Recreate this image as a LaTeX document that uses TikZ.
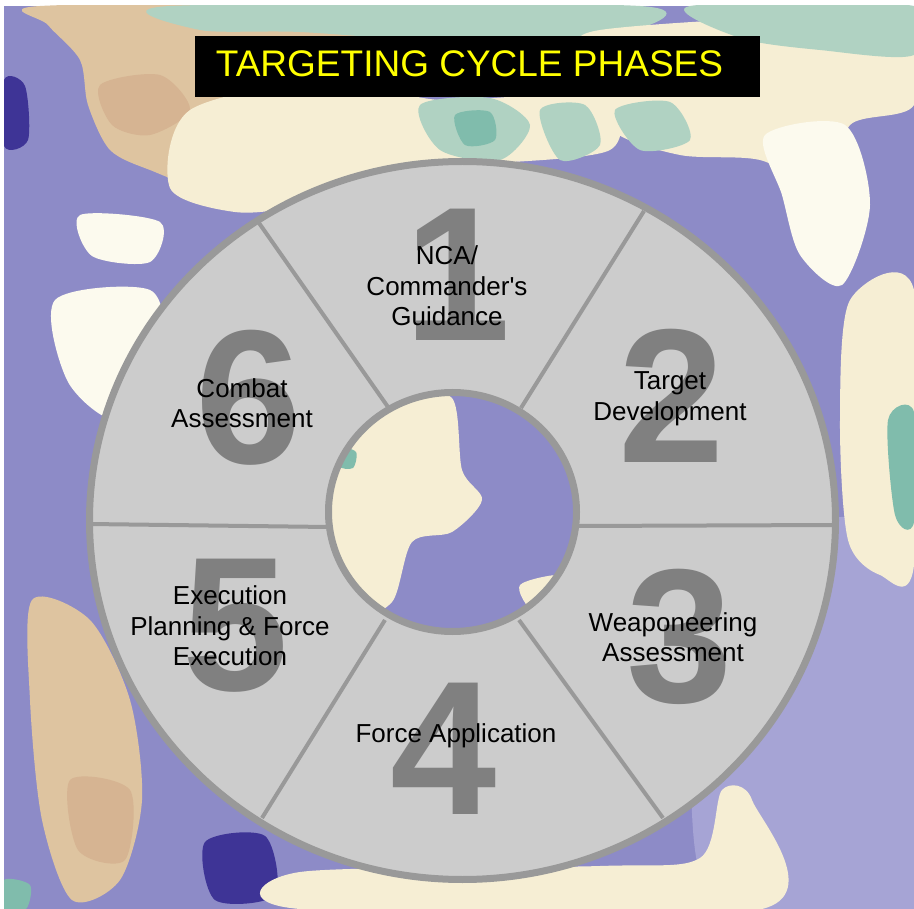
\documentclass[tikz,border=0pt]{standalone}
\usepackage{fontspec}
\setmainfont{Liberation Sans}
\definecolor{skypurple}{RGB}{141,139,199}
\definecolor{skylavender}{RGB}{166,164,213}
\definecolor{skynavy}{RGB}{62,52,150}
\definecolor{skytan}{RGB}{222,196,160}
\definecolor{skypeach}{RGB}{214,180,146}
\definecolor{skycream}{RGB}{246,238,212}
\definecolor{skywhite}{RGB}{252,250,238}
\definecolor{skyteal}{RGB}{128,188,172}
\definecolor{skypaleteal}{RGB}{176,210,194}
\definecolor{ringfill}{RGB}{204,204,204}
\definecolor{ringline}{RGB}{153,153,153}
\definecolor{numgray}{RGB}{128,128,128}
\definecolor{titleyellow}{RGB}{255,255,0}
\begin{document}
\begin{tikzpicture}[x=1pt,y=-1pt,
    phase/.style={align=center,inner sep=0pt,font=\fontsize{26}{30.5}\selectfont},
    digit/.style={inner sep=0pt,text=numgray,font=\fontsize{191}{191}\selectfont\bfseries},
    divider/.style={draw=ringline,line width=4pt},
    ringedge/.style={draw=ringline,line width=7pt}]
  \useasboundingbox (0,0) rectangle (914,909);
  \fill[white] (0,0) rectangle (914,909);
  \begin{scope}
    \clip (4,6) rectangle (914,909);
    \fill[skypurple] (4,6) rectangle (914,909);
    \fill[skylavender] plot[smooth cycle] coordinates {(700,560) (914,540) (914,909) (720,909) (690,760)};
    \fill[skytan] plot[smooth cycle] coordinates {(40,6) (360,6) (380,50) (340,100) (300,130) (250,160) (200,185) (150,170) (110,150) (88,105) (80,60) (48,25)};
    \fill[skypeach] plot[smooth cycle] coordinates {(100,85) (160,75) (190,110) (150,135) (112,125)};
    \fill[skycream] plot[smooth cycle] coordinates {(190,110) (330,80) (440,100) (600,95) (610,150) (470,165) (380,175) (300,205) (235,212) (170,188)};
    \fill[skypaleteal] plot[smooth cycle] coordinates {(170,6) (640,6) (615,35) (460,42) (300,32) (200,30)};
    \fill[skypaleteal] plot[smooth cycle] coordinates {(420,105) (490,98) (530,125) (500,160) (440,150)};
    \fill[skypaleteal] plot[smooth cycle] coordinates {(540,110) (585,105) (600,145) (560,160)};
    \fill[skyteal] plot[smooth cycle] coordinates {(455,115) (490,112) (495,140) (465,145)};
    \fill[skycream] plot[smooth cycle] coordinates {(600,30) (914,20) (914,105) (850,125) (830,190) (760,160) (680,155) (612,130) (590,70)};
    \fill[skypaleteal] plot[smooth cycle] coordinates {(690,6) (914,6) (914,55) (820,50) (740,38)};
    \fill[skypaleteal] plot[smooth cycle] coordinates {(615,110) (670,102) (690,140) (640,150)};
    \fill[skywhite] plot[smooth cycle] coordinates {(765,135) (845,125) (870,205) (842,285) (800,255) (782,195)};
    \fill[skycream] plot[smooth cycle] coordinates {(850,300) (914,290) (914,565) (880,575) (848,540) (840,420)};
    \fill[skyteal] plot[smooth cycle] coordinates {(888,420) (914,412) (914,522) (895,515)};
    \fill[skywhite] plot[smooth cycle] coordinates {(55,300) (150,290) (162,350) (120,420) (68,382)};
    \fill[skywhite] plot[smooth cycle] coordinates {(80,215) (160,222) (150,262) (92,256)};
    \fill[skytan] plot[smooth cycle] coordinates {(32,600) (90,620) (130,700) (142,800) (120,880) (72,900) (42,820) (30,700)};
    \fill[skypeach] plot[smooth cycle] coordinates {(70,780) (130,790) (125,860) (78,850)};
    \fill[skyteal] plot[smooth cycle] coordinates {(4,880) (30,885) (26,909) (4,909)};
    \fill[skynavy] plot[smooth cycle] coordinates {(4,80) (25,86) (28,140) (4,146)};
    \fill[skynavy] plot[smooth cycle] coordinates {(205,842) (265,836) (275,895) (215,900)};
    \fill[skycream] plot[smooth cycle] coordinates {(300,872) (600,866) (700,858) (722,790) (752,800) (762,909) (300,909)};
    \fill[skycream] plot[smooth cycle] coordinates {(332,420) (400,395) (452,398) (462,470) (482,500) (452,532) (412,542) (392,602) (352,612) (330,522)};
    \fill[skycream] plot[smooth cycle] coordinates {(520,585) (565,575) (575,600) (535,612)};
    \fill[skyteal] plot[smooth cycle] coordinates {(340,448) (356,452) (353,468) (338,466)};
  \end{scope}
  \coordinate (O) at (462.5,520.5);
  \coordinate (I) at (452.5,512);
  \coordinate (o1) at (259,223);
  \coordinate (i1) at (388,407);
  \coordinate (o2) at (644,211);
  \coordinate (i2) at (521,408);
  \coordinate (o3) at (836,525);
  \coordinate (i3) at (577,526);
  \coordinate (o4) at (663,818);
  \coordinate (i4) at (519,620);
  \coordinate (o5) at (262,818);
  \coordinate (i5) at (385,620);
  \coordinate (o6) at (89,524);
  \coordinate (i6) at (328,527);
  \fill[ringfill,even odd rule] (O) ellipse [x radius=373pt,y radius=359pt]
    (I) ellipse [x radius=124pt,y radius=119.5pt];
  \begin{scope}[divider]
    \draw (i1) -- (o1);
    \draw (i2) -- (o2);
    \draw (i3) -- (o3);
    \draw (i4) -- (o4);
    \draw (i5) -- (o5);
    \draw (i6) -- (o6);
  \end{scope}
  \draw[ringedge] (O) ellipse [x radius=373pt,y radius=359pt];
  \draw[ringedge] (I) ellipse [x radius=124pt,y radius=119.5pt];
  \draw
    (458,275) node[digit] (d1) {1}
    (672,396) node[digit] (d2) {2}
    (680,637) node[digit] (d3) {3}
    (444,749) node[digit] (d4) {4}
    (236,626) node[digit] (d5) {5}
    (249,398) node[digit] (d6) {6};
  \draw
    (447,286) node[phase] (p1) {NCA/\\Commander\textquotesingle s\\Guidance}
    (670,399) node[phase] (p2) {Target\\Development}
    (673,637) node[phase] (p3) {Weaponeering\\Assessment}
    (456,736) node[phase] (p4) {Force Application}
    (230,626) node[phase] (p5) {Execution\\Planning \& Force\\Execution}
    (242,403) node[phase] (p6) {Combat\\Assessment};
  \fill[black] (195,36) rectangle (760,97);
  \node[inner sep=0pt,text=titleyellow,font=\fontsize{37}{40}\selectfont] (title) at (469.5,64) {TARGETING CYCLE PHASES};
\end{tikzpicture}
\end{document}
